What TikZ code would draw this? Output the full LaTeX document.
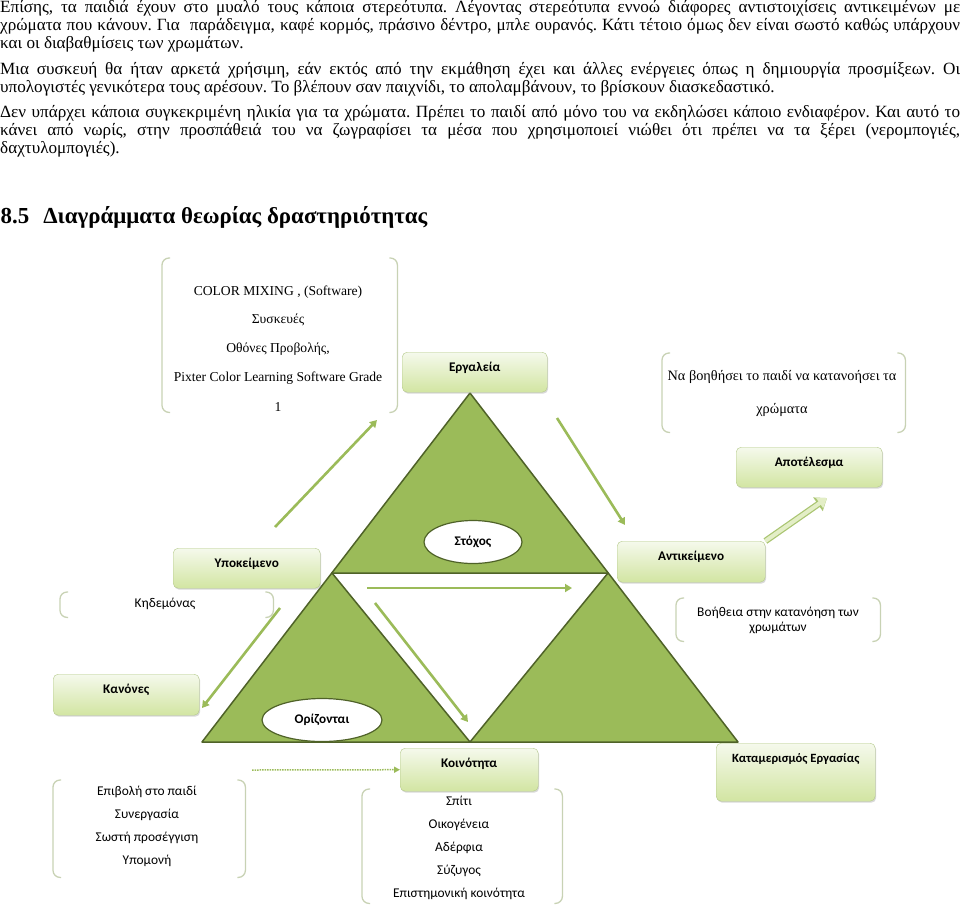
\documentclass[tikz,border=0pt]{standalone}
\usepackage{fontspec}
\setmainfont{Liberation Serif}
\newfontfamily\carlito{Carlito}
\usetikzlibrary{positioning,shapes.geometric,arrows.meta,shadows}
\definecolor{trifill}{HTML}{9BBB59}
\definecolor{triline}{HTML}{4F6228}
\definecolor{boxtop}{HTML}{F5F9EC}
\definecolor{boxbottom}{HTML}{D2E5A2}
\definecolor{boxline}{HTML}{B4C98A}
\definecolor{brkcolor}{HTML}{C8D2B4}
\definecolor{linkgreen}{HTML}{9BBB59}
\definecolor{blockfill}{HTML}{E3EEC6}
\frenchspacing

\begin{document}
\begin{tikzpicture}[x=1pt,y=-1pt,node distance=23pt,on grid,
		para/.style={anchor=base west, inner sep=0pt, font=\fontsize{17.15}{18}\selectfont},
		box/.style={anchor=north west, rounded corners=5pt, draw=boxline, top color=boxtop, bottom color=boxbottom, drop shadow={opacity=0.3, shadow xshift=1pt, shadow yshift=-1.5pt}, font=\carlito\bfseries\fontsize{13.2}{15}\selectfont, text height=19pt, text depth=21pt, inner ysep=0pt},
		goal/.style={ellipse, draw=triline, line width=1.2pt, fill=white, font=\carlito\bfseries\fontsize{13.2}{15}\selectfont, inner sep=0pt},
		brk/.style={draw=none, inner sep=0pt, anchor=north west},
		bracketline/.style={draw=brkcolor, line width=1.3pt, rounded corners=7pt},
		serif/.style={font=\fontsize{13.6}{15}\selectfont, text height=9pt, text depth=3pt, inner sep=0pt},
		sans/.style={font=\carlito\fontsize{13.4}{15}\selectfont, text height=9pt, text depth=3pt, inner sep=0pt},
		link/.style={draw=linkgreen, line width=2.6pt, -{Triangle[length=7pt,width=8pt]}},
		dotlink/.style={draw=linkgreen, line width=1.5pt, densely dotted, -{Triangle[length=6pt,width=6pt]}},
		blockarrow/.style={draw=blockfill, line width=4pt, -{Triangle[length=9pt,width=12pt]}, preaction={draw=linkgreen!85, line width=6.5pt, -{Triangle[length=11pt,width=16pt]}}}
	]
	
	\useasboundingbox (0,0) rectangle (960,908);
	
	\node[para] (l_0) at (0,12.7) {\makebox[960pt][s]{Επίσης, τα παιδιά έχουν στο μυαλό τους κάποια στερεότυπα. Λέγοντας στερεότυπα εννοώ διάφορες αντιστοιχίσεις αντικειμένων με}};
	\node[para] (l_1) at (0,30.5) {\makebox[960pt][s]{χρώματα που κάνουν. Για\ \ παράδειγμα, καφέ κορμός, πράσινο δέντρο, μπλε ουρανός. Κάτι τέτοιο όμως δεν είναι σωστό καθώς υπάρχουν}};
	\node[para] (l_2) at (0,48.5) {και οι διαβαθμίσεις των χρωμάτων.};
	\node[para] (l_3) at (0,74) {\makebox[960pt][s]{Μια συσκευή θα ήταν αρκετά χρήσιμη, εάν εκτός από την εκμάθηση έχει και άλλες ενέργειες όπως η δημιουργία προσμίξεων. Οι}};
	\node[para] (l_4) at (0,92) {υπολογιστές γενικότερα τους αρέσουν. Το βλέπουν σαν παιχνίδι, το απολαμβάνουν, το βρίσκουν διασκεδαστικό.};
	\node[para] (l_5) at (0,117) {\makebox[960pt][s]{Δεν υπάρχει κάποια συγκεκριμένη ηλικία για τα χρώματα. Πρέπει το παιδί από μόνο του να εκδηλώσει κάποιο ενδιαφέρον. Και αυτό το}};
	\node[para] (l_6) at (0,135) {\makebox[960pt][s]{κάνει από νωρίς, στην προσπάθειά του να ζωγραφίσει τα μέσα που χρησιμοποιεί νιώθει ότι πρέπει να τα ξέρει (νερομπογιές,}};
	\node[para] (l_7) at (0,153) {δαχτυλομπογιές).};
	\node[para, font=\bfseries\fontsize{22.9}{26}\selectfont] (h_0) at (0.5,223) {8.5\hspace{14pt}Διαγράμματα θεωρίας δραστηριότητας};
	
	\coordinate (v_0) at (470,393);
	\coordinate (v_1) at (202,742);
	\coordinate (v_2) at (738,742);
	\coordinate (m_0) at (332,573);
	\coordinate (m_1) at (608,573);
	\coordinate (m_2) at (470,742);
	
	\draw[fill=trifill, draw=triline, line width=1.5pt, line join=round] (v_0) -- (v_1) -- (v_2) -- cycle;
	\draw[fill=white, draw=triline, line width=1.5pt, line join=round] (m_0) -- (m_1) -- (m_2) -- cycle;
	
	\node[goal, minimum width=98pt, minimum height=43pt] (e_0) at (473,542) {Στόχος};
	\node[goal, minimum width=120pt, minimum height=43pt] (e_1) at (322,720) {Ορίζονται};
	
	\node[box, minimum width=145pt] (t_0) at (402,352) {Εργαλεία};
	\node[box, minimum width=147pt] (s_0) at (173,548) {Υποκείμενο};
	\node[box, minimum width=146pt, text depth=22pt] (k_0) at (53,674) {Κανόνες};
	\node[box, minimum width=148pt, text depth=22pt] (o_0) at (617,541) {Αντικείμενο};
	\node[box, minimum width=146pt] (r_0) at (736,447) {Αποτέλεσμα};
	\node[box, minimum width=138pt, text depth=24pt] (c_0) at (400,748) {Κοινότητα};
	\node[box, minimum width=159pt, text depth=39pt, font=\carlito\bfseries\fontsize{12.6}{15}\selectfont] (d_0) at (716,743) {Καταμερισμός Εργασίας};
	
	\node[brk, minimum width=235pt, minimum height=154pt] (g_0) at (162,258) {};
	\node[brk, minimum width=243pt, minimum height=79pt] (g_1) at (662,353) {};
	\node[brk, minimum width=213pt, minimum height=25pt] (g_2) at (60,592) {};
	\node[brk, minimum width=204pt, minimum height=43pt] (g_3) at (676,598) {};
	\node[brk, minimum width=192pt, minimum height=97pt] (g_4) at (53,780) {};
	\node[brk, minimum width=200pt, minimum height=114pt] (g_5) at (362,789) {};
	
	\foreach \g in {g_0,g_1,g_2,g_3,g_4,g_5} {
		\draw[bracketline] ([xshift=8pt]\g.north west) -- (\g.north west) -- (\g.south west) -- ([xshift=8pt]\g.south west);
		\draw[bracketline] ([xshift=-8pt]\g.north east) -- (\g.north east) -- (\g.south east) -- ([xshift=-8pt]\g.south east);
	}
	
	\node[serif] (g_0a) at (278,292) {COLOR MIXING , (Software)};
	\node[serif] (g_0b) [below=28.5pt of g_0a] {Συσκευές};
	\node[serif] (g_0c) [below=28.5pt of g_0b] {Οθόνες Προβολής,};
	\node[serif] (g_0d) [below=29pt of g_0c] {Pixter Color Learning Software Grade};
	\node[serif] (g_0e) [below=30pt of g_0d] {1};
	
	\node[serif, font=\fontsize{14.3}{15}\selectfont] (g_1a) at (782,377) {Να βοηθήσει το παιδί να κατανοήσει τα};
	\node[serif, font=\fontsize{14.3}{15}\selectfont] (g_1b) [below=33pt of g_1a] {χρώματα};
	
	\node[sans] (g_2a) at (165,604) {Κηδεμόνας};
	
	\node[sans] (g_3a) at (778,613) {Βοήθεια στην κατανόηση των};
	\node[sans] (g_3b) [below=15.5pt of g_3a] {χρωμάτων};
	
	\node[sans] (g_4a) at (147,792) {Επιβολή στο παιδί};
	\node[sans] (g_4b) [below=of g_4a] {Συνεργασία};
	\node[sans] (g_4c) [below=of g_4b] {Σωστή προσέγγιση};
	\node[sans] (g_4d) [below=of g_4c] {Υπομονή};
	
	\node[sans] (g_5a) at (459,802) {Σπίτι};
	\node[sans] (g_5b) [below=of g_5a] {Οικογένεια};
	\node[sans] (g_5c) [below=of g_5b] {Αδέρφια};
	\node[sans] (g_5d) [below=of g_5c] {Σύζυγος};
	\node[sans] (g_5e) [below=of g_5d] {Επιστημονική κοινότητα};
	
	\coordinate (a_0) at (275,527);
	\coordinate (a_1) at (377,420);
	\coordinate (a_2) at (557,418);
	\coordinate (a_3) at (625,525);
	\coordinate (a_4) at (280,608);
	\coordinate (a_5) at (202,708);
	\coordinate (a_6) at (367,588);
	\coordinate (a_7) at (572,588);
	\coordinate (a_8) at (375,603);
	\coordinate (a_9) at (468,722);
	\coordinate (a_10) at (252,770);
	\coordinate (a_11) at (827,498);
	
	\draw[link] (a_0) -- (a_1);
	\draw[link] (a_2) -- (a_3);
	\draw[link] (a_4) -- (a_5);
	\draw[link] (a_6) -- (a_7);
	\draw[link] (a_8) -- (a_9);
	\draw[dotlink] (a_10) -- (c_0.west);
	\draw[blockarrow] (o_0.north east) -- (a_11);
\end{tikzpicture}
\end{document}
